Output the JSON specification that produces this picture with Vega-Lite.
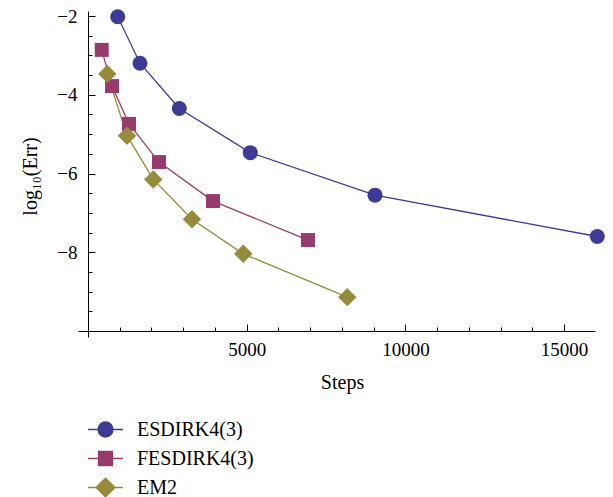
{
  "$schema": "https://vega.github.io/schema/vega-lite/v6.json",
  "width": 517,
  "height": 326,
  "autosize": {"type": "none"},
  "padding": {"left": 78, "top": 11, "right": 18, "bottom": 160},
  "background": "white",
  "config": {
    "view": {"stroke": null},
    "font": "Liberation Serif",
    "axis": {"grid": false, "domainColor": "black", "tickColor": "black", "labelColor": "black", "titleColor": "black", "labelFont": "Liberation Serif", "titleFont": "Liberation Serif", "titleFontWeight": "normal", "domainWidth": 1, "tickWidth": 1}
  },
  "data": {
    "values": [
      {"series": "ESDIRK4(3)", "steps": 936, "err": -2.02},
      {"series": "ESDIRK4(3)", "steps": 1638, "err": -3.20},
      {"series": "ESDIRK4(3)", "steps": 2876, "err": -4.35},
      {"series": "ESDIRK4(3)", "steps": 5113, "err": -5.47},
      {"series": "ESDIRK4(3)", "steps": 9042, "err": -6.55},
      {"series": "ESDIRK4(3)", "steps": 16045, "err": -7.60},
      {"series": "FESDIRK4(3)", "steps": 432, "err": -2.86},
      {"series": "FESDIRK4(3)", "steps": 756, "err": -3.78},
      {"series": "FESDIRK4(3)", "steps": 1292, "err": -4.74},
      {"series": "FESDIRK4(3)", "steps": 2237, "err": -5.71},
      {"series": "FESDIRK4(3)", "steps": 3938, "err": -6.70},
      {"series": "FESDIRK4(3)", "steps": 6931, "err": -7.69},
      {"series": "EM2", "steps": 608, "err": -3.47},
      {"series": "EM2", "steps": 1229, "err": -5.04},
      {"series": "EM2", "steps": 2057, "err": -6.15},
      {"series": "EM2", "steps": 3276, "err": -7.16},
      {"series": "EM2", "steps": 4893, "err": -8.04},
      {"series": "EM2", "steps": 8169, "err": -9.14}
    ]
  },
  "layer": [
    {
      "mark": {"type": "line", "strokeWidth": 1.3},
      "encoding": {
        "x": {"field": "steps", "type": "quantitative",
          "scale": {"domain": [-315, 15973], "nice": false, "zero": false},
          "axis": {"orient": "bottom", "values": [5000, 10000, 15000], "format": "d", "tickSize": -7, "offset": -6, "labelFontSize": 19, "labelPadding": 16, "labelFlush": false, "title": "Steps", "titleFontSize": 20, "titleX": 264, "titleY": 51, "titleBaseline": "middle", "titleAlign": "center"}},
        "y": {"field": "err", "type": "quantitative",
          "scale": {"domain": [-10.152, -1.873], "nice": false, "zero": false},
          "axis": {"orient": "left", "values": [-8, -6, -4, -2], "tickSize": -7, "offset": -10, "labelFontSize": 19, "labelPadding": 18, "labelFlush": false, "title": "log₁₀(Err)", "titleFontSize": 20, "titleX": -58, "titleY": 165, "titleBaseline": "middle", "titleAlign": "center", "titleAngle": -90}},
        "color": {"field": "series", "type": "nominal",
          "scale": {"domain": ["ESDIRK4(3)", "FESDIRK4(3)", "EM2"], "range": ["#3c3c96", "#963c6c", "#968a3d"]},
          "legend": {
            "orient": "none", "legendX": 9, "legendY": 400, "title": null,
            "labelFont": "Liberation Serif", "labelFontSize": 20, "labelColor": "black", "labelOffset": 13,
            "symbolSize": 1225, "symbolStrokeWidth": 1.3, "padding": 0, "rowPadding": 0,
            "encode": {"symbols": {"update": {
              "shape": {"signal": "datum.value === 'ESDIRK4(3)' ? 'M-1,0H1M-0.43,0A0.43,0.43,0,1,1,0.43,0A0.43,0.43,0,1,1,-0.43,0Z' : datum.value === 'FESDIRK4(3)' ? 'M-1,0H1M-0.4,-0.4H0.4V0.4H-0.4Z' : 'M-1,0H1M-0.54,0L0,-0.54L0.54,0L0,0.54Z'"},
              "fill": {"scale": "color", "field": "value"},
              "stroke": {"scale": "color", "field": "value"},
              "strokeWidth": {"value": 1.3},
              "size": {"value": 1225},
              "opacity": {"value": 1}
            }}}
          }},
        "order": {"field": "steps", "type": "quantitative"}
      }
    },
    {
      "transform": [{"filter": "datum.series === 'ESDIRK4(3)'"}],
      "mark": {"type": "point", "filled": true, "opacity": 1, "shape": "circle", "size": 225},
      "encoding": {
        "x": {"field": "steps", "type": "quantitative",
          "axis": {"orient": "bottom", "values": [1000, 2000, 3000, 4000, 6000, 7000, 8000, 9000, 11000, 12000, 13000, 14000], "tickSize": -4, "offset": -6, "domain": false, "labels": false, "title": null}},
        "y": {"field": "err", "type": "quantitative",
          "axis": {"orient": "left", "values": [-9.5, -9, -8.5, -7.5, -7, -6.5, -5.5, -5, -4.5, -3.5, -3, -2.5], "tickSize": -4, "offset": -10, "domain": false, "labels": false, "title": null}},
        "color": {"field": "series", "type": "nominal"}
      }
    },
    {
      "transform": [{"filter": "datum.series === 'FESDIRK4(3)'"}],
      "mark": {"type": "point", "filled": true, "opacity": 1, "shape": "square", "size": 196},
      "encoding": {
        "x": {"field": "steps", "type": "quantitative", "axis": null},
        "y": {"field": "err", "type": "quantitative", "axis": null},
        "color": {"field": "series", "type": "nominal"}
      }
    },
    {
      "transform": [{"filter": "datum.series === 'EM2'"}],
      "mark": {"type": "point", "filled": true, "opacity": 1, "shape": "diamond", "size": 340},
      "encoding": {
        "x": {"field": "steps", "type": "quantitative", "axis": null},
        "y": {"field": "err", "type": "quantitative", "axis": null},
        "color": {"field": "series", "type": "nominal"}
      }
    }
  ],
  "resolve": {"axis": {"x": "independent", "y": "independent"}}
}
